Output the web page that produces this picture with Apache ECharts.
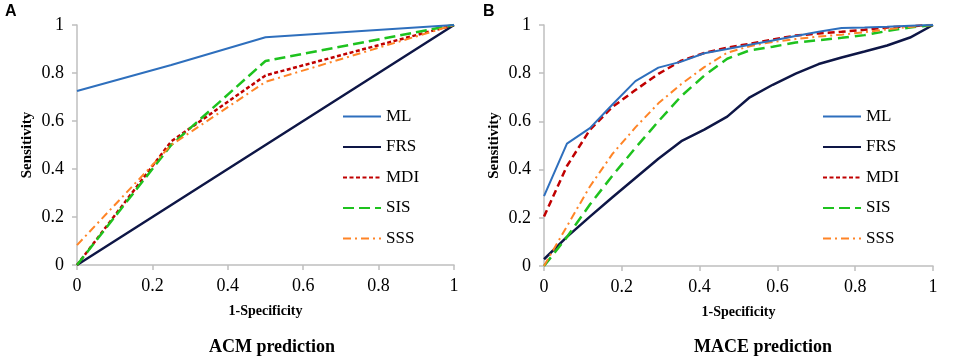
<!DOCTYPE html>
<html>
<head>
<meta charset="utf-8">
<script src="https://cdn.jsdelivr.net/npm/echarts@6/dist/echarts.min.js"></script>
<style>
  html, body { margin: 0; padding: 0; background: #fff; }
  #main { width: 957px; height: 362px; }
</style>
</head>
<body>
<div id="main"></div>
<script>
// ACM prediction (panel A)
const acmFpr = [0, 0.25, 0.5, 1];
const acmML  = [0.725, 0.833, 0.949, 1];
const acmFRS = [0, 0.25, 0.5, 1];
const acmMDI = [0, 0.515, 0.79, 1];
const acmSIS = [0, 0.5, 0.85, 1];
const acmSSS = [0.083, 0.5, 0.763, 1];

// MACE prediction (panel B)
const maceFpr = [0, 0.059, 0.118, 0.176, 0.235, 0.294, 0.353, 0.412, 0.471, 0.529, 0.588, 0.647, 0.706, 0.765, 0.824, 0.882, 0.941, 1];
const maceML  = [0.29, 0.508, 0.572, 0.67, 0.767, 0.823, 0.848, 0.883, 0.9, 0.918, 0.936, 0.954, 0.972, 0.988, 0.99, 0.993, 0.997, 1];
const maceFRS = [0.028, 0.121, 0.205, 0.285, 0.365, 0.445, 0.518, 0.566, 0.62, 0.7, 0.752, 0.798, 0.838, 0.865, 0.89, 0.915, 0.948, 1];
const maceMDI = [0.205, 0.415, 0.565, 0.66, 0.73, 0.797, 0.852, 0.884, 0.906, 0.922, 0.94, 0.956, 0.965, 0.972, 0.98, 0.99, 0.995, 1];
const maceSIS = [0, 0.12, 0.255, 0.375, 0.49, 0.6, 0.705, 0.79, 0.86, 0.895, 0.91, 0.927, 0.937, 0.947, 0.958, 0.975, 0.99, 1];
const maceSSS = [0, 0.165, 0.33, 0.465, 0.575, 0.675, 0.755, 0.825, 0.885, 0.912, 0.93, 0.942, 0.952, 0.96, 0.97, 0.982, 0.992, 1];

const seriesNames = ['ML', 'FRS', 'MDI', 'SIS', 'SSS'];

const colors = {
  ML: '#2e6fbd',
  FRS: '#0e1646',
  MDI: '#c00000',
  SIS: '#1ec21e',
  SSS: '#ff8426'
};

const pairs = (xs, ys) => xs.map((x, i) => [x, ys[i]]);

const chart = echarts.init(document.getElementById('main'));

const serif = 'Liberation Serif, Times New Roman, serif';
const axisGray = '#bfbfbf';

function xAxis(idx) {
  return {
    gridIndex: idx, type: 'value', min: 0, max: 1, interval: 0.2,
    name: '1-Specificity', nameLocation: 'middle', nameGap: 39,
    nameTextStyle: { fontFamily: serif, fontWeight: 'bold', fontSize: 14, color: '#000' },
    axisLine: { lineStyle: { color: axisGray, width: 1.5 } },
    axisTick: { show: true, length: 5, lineStyle: { color: axisGray, width: 1.5 } },
    axisLabel: { fontFamily: serif, fontSize: 18, color: '#000', margin: 12 },
    splitLine: { show: false }
  };
}
function yAxis(idx) {
  return {
    gridIndex: idx, type: 'value', min: 0, max: 1, interval: 0.2,
    name: 'Sensitivity', nameLocation: 'middle', nameGap: 42, nameRotate: 90,
    nameTextStyle: { fontFamily: serif, fontWeight: 'bold', fontSize: 15, color: '#000' },
    axisLine: { show: true, lineStyle: { color: axisGray, width: 1.5 } },
    axisTick: { show: true, length: 5, lineStyle: { color: axisGray, width: 1.5 } },
    axisLabel: { fontFamily: serif, fontSize: 18, color: '#000', margin: 13 },
    splitLine: { show: false }
  };
}

const dashA = { ML: 'solid', FRS: 'solid', MDI: [4, 2.5], SIS: [11, 5], SSS: [8, 4, 2, 4] };
const dashB = { ML: 'solid', FRS: 'solid', MDI: [7, 4], SIS: [11, 6], SSS: [8, 4, 2, 4] };
const widths = { ML: 2, FRS: 2.5, MDI: 2.5, SIS: 2.5, SSS: 2 };

const acmData = { ML: acmML, FRS: acmFRS, MDI: acmMDI, SIS: acmSIS, SSS: acmSSS };
const maceData = { ML: maceML, FRS: maceFRS, MDI: maceMDI, SIS: maceSIS, SSS: maceSSS };

const series = [];
seriesNames.forEach(n => {
  series.push({
    name: n, type: 'line', xAxisIndex: 0, yAxisIndex: 0,
    data: pairs(acmFpr, acmData[n]), symbol: 'none', silent: true,
    lineStyle: { color: colors[n], width: widths[n], type: dashA[n] },
    itemStyle: { color: colors[n] }, z: n === 'ML' ? 3 : 2
  });
});
seriesNames.forEach(n => {
  series.push({
    name: n, type: 'line', xAxisIndex: 1, yAxisIndex: 1,
    data: pairs(maceFpr, maceData[n]), symbol: 'none', silent: true,
    lineStyle: { color: colors[n], width: widths[n], type: dashB[n] },
    itemStyle: { color: colors[n] }, z: n === 'ML' ? 3 : 2
  });
});

function legend(left) {
  return {
    data: seriesNames, orient: 'vertical', left: left, top: 103,
    itemWidth: 38, itemHeight: 14, itemGap: 13.5, selectedMode: false,
    itemStyle: { opacity: 0, borderWidth: 0 },
    textStyle: { fontFamily: serif, fontSize: 17, color: '#000' }
  };
}

const option = {
  animation: false,
  backgroundColor: '#fff',
  grid: [
    { left: 77, top: 25, width: 377, height: 240 },
    { left: 544, top: 25, width: 389, height: 241 }
  ],
  xAxis: [xAxis(0), xAxis(1)],
  yAxis: [yAxis(0), yAxis(1)],
  legend: [legend(337), legend(817)],
  series: series,
  graphic: [
    { type: 'text', left: 5, top: 4, style: { text: 'A', font: 'bold 16px Liberation Sans, Arial, sans-serif', fill: '#000' } },
    { type: 'text', left: 483, top: 4, style: { text: 'B', font: 'bold 16px Liberation Sans, Arial, sans-serif', fill: '#000' } },
    { type: 'text', x: 272, y: 347, style: { text: 'ACM prediction', font: 'bold 18px Liberation Serif, serif', fill: '#000', align: 'center', verticalAlign: 'middle' } },
    { type: 'text', x: 763, y: 347, style: { text: 'MACE prediction', font: 'bold 18px Liberation Serif, serif', fill: '#000', align: 'center', verticalAlign: 'middle' } }
  ]
};

option && chart.setOption(option);
</script>
</body>
</html>
